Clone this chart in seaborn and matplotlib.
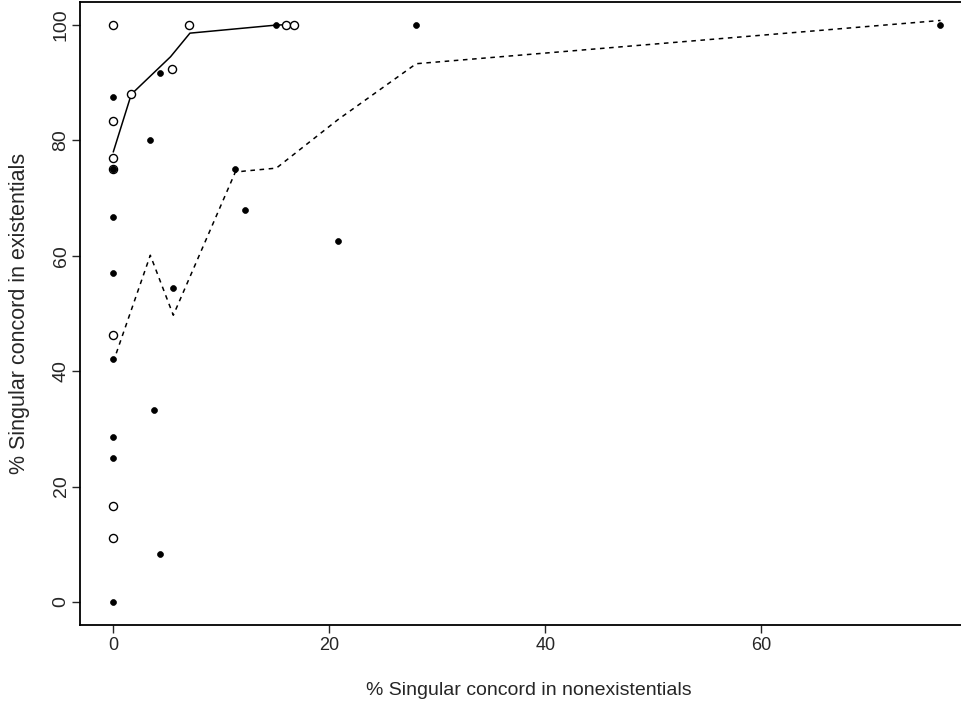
import numpy as np
import pandas as pd
import matplotlib
matplotlib.use("Agg")
import matplotlib.pyplot as plt
import seaborn as sns

# Puntos abiertos (grupo 1)
x_open = [0, 0, 0, 0, 0, 0, 0, 1.67, 5.46, 7.0, 16.0, 16.7]
y_open = [100, 83.3, 76.9, 75.0, 46.2, 16.7, 11.1, 88.0, 92.4, 100, 100, 100]

# Puntos rellenos (grupo 2)
x_fill = [0, 0, 0, 0, 0, 0, 0, 0, 0, 3.43, 4.35, 3.8, 4.35, 5.56, 11.3, 12.2, 15.1, 20.8, 28.05, 76.6]
y_fill = [87.5, 75.0, 75.0, 66.7, 57.1, 42.1, 28.6, 25.0, 0, 80.0, 91.7, 33.3, 8.3, 54.5, 75.0, 68.0, 100, 62.5, 100, 100]

# Curvas suavizadas
x_smooth_open = [0, 1.67, 5.3, 7.1, 15.1, 16.7]
y_smooth_open = [78.0, 88.0, 94.5, 98.6, 100, 100.1]

x_smooth_fill = [0, 3.43, 3.8, 4.35, 5.56, 11.3, 12.2, 15.1, 20.8, 28.05, 76.6]
y_smooth_fill = [41.6, 60.1, 58.3, 55.6, 49.7, 74.5, 74.7, 75.2, 83.6, 93.3, 100.8]

x_ticks = [0, 20, 40, 60]
y_ticks = [0, 20, 40, 60, 80, 100]

sns.set_style("ticks")
plt.rcParams['font.family'] = ['Liberation Sans', 'DejaVu Sans']

fig = plt.figure(figsize=(9.62, 7.01), dpi=100)
ax = fig.add_axes([80 / 962, (701 - 625) / 701, (977 - 80) / 962, (625 - 2) / 701])

df_open = pd.DataFrame({"x": x_open, "y": y_open})
df_fill = pd.DataFrame({"x": x_fill, "y": y_fill})
df_s1 = pd.DataFrame({"x": x_smooth_open, "y": y_smooth_open})
df_s2 = pd.DataFrame({"x": x_smooth_fill, "y": y_smooth_fill})

sns.lineplot(data=df_s1, x="x", y="y", ax=ax, color="black", lw=1.1,
             sort=False, estimator=None)
sns.lineplot(data=df_s2, x="x", y="y", ax=ax, color="black", lw=1.1,
             sort=False, estimator=None, linestyle=(0, (3, 3)))

sns.scatterplot(data=df_open, x="x", y="y", ax=ax, marker="o", s=34,
                facecolor="white", edgecolor="black", linewidth=1.0, zorder=3)
sns.scatterplot(data=df_fill, x="x", y="y", ax=ax, marker="o", s=18,
                color="black", edgecolor="black", linewidth=0.5, zorder=4)

ax.set_xlim(-3.08, 79.98)
ax.set_ylim(-4, 104)
ax.set_xticks(x_ticks)
ax.set_yticks(y_ticks)
ax.set_yticklabels([str(v) for v in y_ticks], rotation=90, va="center")
ax.tick_params(axis="x", direction="out", length=5.5, width=1, labelsize=13, pad=3)
ax.tick_params(axis="y", direction="out", length=5.5, width=1, labelsize=14, pad=2)

for s in ax.spines.values():
    s.set_linewidth(1.3)
    s.set_color("black")

ax.set_xlabel("% Singular concord in nonexistentials", fontsize=14, labelpad=20)
ax.set_ylabel("% Singular concord in existentials", fontsize=15.5, labelpad=16)

fig.savefig("out.png", dpi=100)
